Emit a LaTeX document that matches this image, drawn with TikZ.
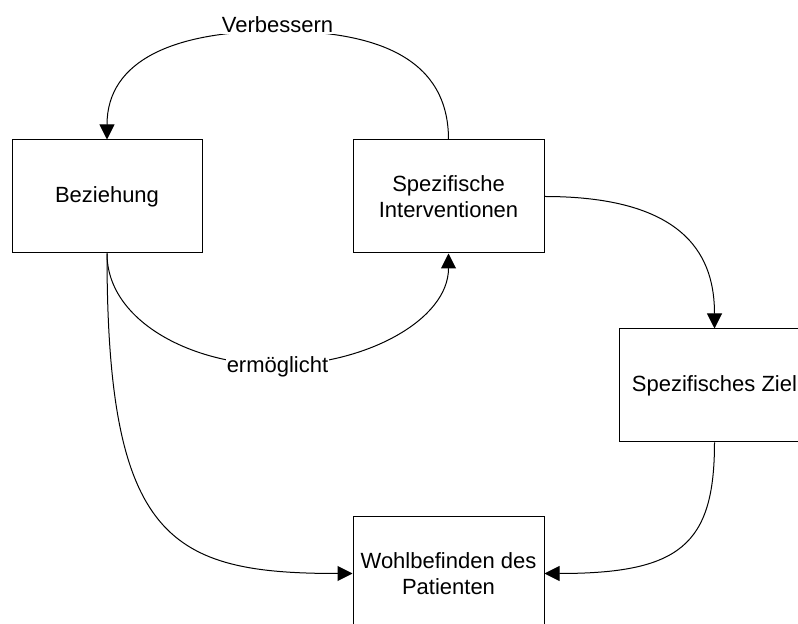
\documentclass[tikz,border=0pt]{standalone}
\usepackage{fontspec}
\setmainfont{Liberation Sans}
\usetikzlibrary{arrows.meta}
\begin{document}
\begin{tikzpicture}[x=0.5pt,y=-0.5pt,
  box/.style={draw, line width=0.5pt, minimum width=95.5pt, minimum height=56.5pt,
    align=center, inner sep=0pt, font=\fontsize{11}{13}\selectfont},
  conn/.style={line width=0.5pt, -{Triangle[length=7.5pt,width=7.5pt]}},
  lab/.style={fill=white, inner sep=0.6pt, font=\fontsize{11}{13}\selectfont}]
\useasboundingbox (0,0) rectangle (798,624);
\clip (0,0) rectangle (798,624);
\node[box, minimum width=95pt] (bez) at (107,196.5) {Beziehung};
\node[box] (int) at (448.5,196.5) {Spezifische\\Interventionen};
\node[box] (ziel) at (714.5,385.5) {Spezifisches Ziel};
\node[box] (wohl) at (448.5,573.5) {Wohlbefinden des\\Patienten};
\draw[conn] (int.north) .. controls (448.5,60) and (380,31) .. (277.5,31)
  .. controls (175,31) and (107,60) .. (bez.north);
\node[lab, anchor=base] (lv) at (277.5,33) {Verbessern};
\draw[conn] (bez.south) .. controls (107,320) and (190,365) .. (277.5,365)
  .. controls (365,365) and (448.5,320) .. (int.south);
\node[lab, anchor=base] (le) at (277.5,373) {ermöglicht};
\draw[conn] (int.east) .. controls (690,196.5) and (714.5,260) .. (ziel.north);
\draw[conn] (bez.south) .. controls (107,540) and (170,573.5) .. (wohl.west);
\draw[conn] (ziel.south) .. controls (714.5,545) and (680,573.5) .. (wohl.east);
\end{tikzpicture}
\end{document}
